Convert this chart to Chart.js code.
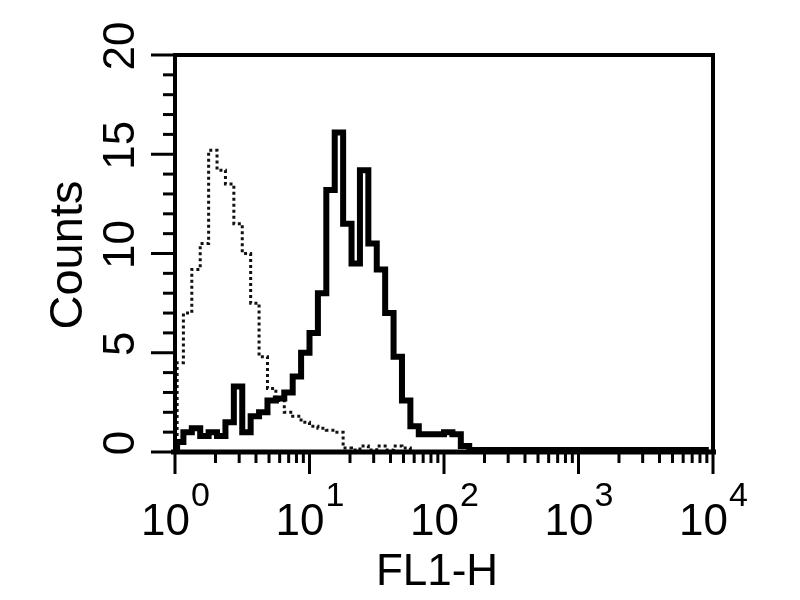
<!DOCTYPE html>
<html>
<head>
<meta charset="utf-8">
<title>FL1-H histogram</title>
<script src="https://cdn.jsdelivr.net/npm/chart.js@4.4.1/dist/chart.umd.min.js"></script>
<style>
  html, body { margin: 0; padding: 0; background: #fff; }
  #wrap { width: 800px; height: 600px; }
</style>
</head>
<body>
<div id="wrap"><canvas id="histChart" width="800" height="600"></canvas></div>
<script>
// channel centres (1024 channel scale, 16 channels per bin, 256 channels per decade)
var channels = [8, 24, 40, 56, 72, 88, 104, 120, 136, 152, 168, 184, 200, 216, 232, 248,
    264, 280, 296, 312, 328, 344, 360, 376, 392, 408, 424, 440, 456, 472, 488, 504,
    520, 536, 552, 568, 584, 600, 616, 632, 648, 664, 680, 696, 712, 728, 744, 760,
    776, 792, 808, 824, 840, 856, 872, 888, 904, 920, 936, 952, 968, 984, 1000, 1016];

// stained sample (thick solid line)
var sampleCounts = [0.5, 1.0, 1.2, 0.8, 1.0, 0.8, 1.5, 3.3, 1.0, 1.8, 2.0, 2.6, 2.7, 3.0, 3.8, 5.0,
    6.0, 8.0, 13.2, 16.1, 11.5, 9.5, 14.2, 10.5, 9.2, 7.0, 4.8, 2.6, 1.3, 0.9, 0.9, 0.9,
    1.0, 0.9, 0.3, 0.1, 0.1, 0.1, 0.1, 0.1, 0.1, 0.1, 0.1, 0.1, 0.1, 0.1, 0.1, 0.1,
    0.1, 0.1, 0.1, 0.1, 0.1, 0.1, 0.1, 0.1, 0.1, 0.1, 0.1, 0.1, 0.1, 0.1, 0.1, 0.1];

// control (dotted line)
var controlCounts = [4.5, 7.0, 9.2, 10.5, 15.2, 14.2, 13.5, 11.5, 10.0, 7.5, 4.8, 3.2, 2.6, 2.0, 1.8, 1.5,
    1.3, 1.2, 1.1, 1.0, 0.2, 0.1, 0.3, 0.1, 0.3, 0.1, 0.3, 0.2, 0, 0, 0, 0,
    0, 0, 0, 0, 0, 0, 0, 0, 0, 0, 0, 0, 0, 0, 0, 0,
    0, 0, 0, 0, 0, 0, 0, 0, 0, 0, 0, 0, 0, 0, 0, 0];

var xDecades = [1, 10, 100, 1000, 10000];
var xExponents = ['0', '1', '2', '3', '4'];
var yTicks = [0, 5, 10, 15, 20];
var yTitle = 'Counts';
var xTitle = 'FL1-H';

var FONT = "'Liberation Sans', Arial, sans-serif";

/**
 * Turn channel + count arrays into {x, y} points on the FL1 scale
 */
function toPoints(counts) {
    var pts = [{ x: 1, y: 0 }];
    for (var i = 0; i < channels.length; i++) {
        pts.push({ x: Math.pow(10, channels[i] / 256), y: counts[i] });
    }
    return pts;
}

/**
 * Draws the box, the outward ticks and all the axis text
 */
var axesPlugin = {
    id: 'flowAxes',
    afterDraw: function (chart) {
        var ctx = chart.ctx;
        var area = chart.chartArea;
        var xs = chart.scales.x;
        var ys = chart.scales.y;
        var i, d, px, py;

        ctx.save();
        ctx.strokeStyle = '#000';
        ctx.fillStyle = '#000';

        // frame
        ctx.lineWidth = 4;
        ctx.strokeRect(area.left, area.top, area.right - area.left, area.bottom - area.top);
        ctx.lineWidth = 5;
        ctx.beginPath();
        ctx.moveTo(area.left - 4, area.bottom);
        ctx.lineTo(area.right + 3, area.bottom);
        ctx.stroke();

        // y ticks: minor every count, major every 5
        ctx.lineWidth = 3;
        for (i = 0; i <= 20; i++) {
            py = ys.getPixelForValue(i);
            var len = (i % 5 === 0) ? 24 : 12;
            ctx.beginPath();
            ctx.moveTo(area.left, py);
            ctx.lineTo(area.left - len, py);
            ctx.stroke();
        }

        // x ticks: log minor ticks
        for (d = 0; d < xDecades.length; d++) {
            px = xs.getPixelForValue(xDecades[d]);
            ctx.beginPath();
            ctx.moveTo(px, area.bottom);
            ctx.lineTo(px, area.bottom + 22);
            ctx.stroke();
            if (d < xDecades.length - 1) {
                for (var m = 2; m <= 9; m++) {
                    px = xs.getPixelForValue(xDecades[d] * m);
                    ctx.beginPath();
                    ctx.moveTo(px, area.bottom);
                    ctx.lineTo(px, area.bottom + 11);
                    ctx.stroke();
                }
            }
        }

        // x tick labels: 10 with a raised exponent
        for (d = 0; d < xDecades.length; d++) {
            px = xs.getPixelForValue(xDecades[d]);
            ctx.font = '44px ' + FONT;
            var baseW = ctx.measureText('10').width;
            ctx.font = '34px ' + FONT;
            var expW = ctx.measureText(xExponents[d]).width;
            var startX = px - (baseW + expW) / 2;
            ctx.textAlign = 'left';
            ctx.textBaseline = 'alphabetic';
            ctx.font = '44px ' + FONT;
            ctx.fillText('10', startX, 535);
            ctx.font = '34px ' + FONT;
            ctx.fillText(xExponents[d], startX + baseW + 1, 506);
        }

        // y tick labels, rotated
        ctx.font = '44px ' + FONT;
        ctx.textAlign = 'center';
        ctx.textBaseline = 'alphabetic';
        for (i = 0; i < yTicks.length; i++) {
            py = ys.getPixelForValue(yTicks[i]);
            ctx.save();
            ctx.translate(134, py - 9);
            ctx.rotate(-Math.PI / 2);
            ctx.fillText(String(yTicks[i]), 0, 0);
            ctx.restore();
        }

        // axis titles
        ctx.save();
        ctx.font = '47px ' + FONT;
        ctx.translate(82, 255);
        ctx.rotate(-Math.PI / 2);
        ctx.fillText(yTitle, 0, 0);
        ctx.restore();

        ctx.font = '44px ' + FONT;
        ctx.fillText(xTitle, 437, 585);

        ctx.restore();
    }
};

function makeChart() {
    var ctx = document.getElementById('histChart').getContext('2d');

    var myChart = new Chart(ctx, {
        type: 'line',
        data: {
            datasets: [{
                label: 'Sample',
                data: toPoints(sampleCounts),
                borderColor: '#000',
                borderWidth: 6,
                stepped: 'middle',
                pointRadius: 0,
                fill: false,
                order: 0
            }, {
                label: 'Control',
                data: toPoints(controlCounts),
                borderColor: '#111',
                borderWidth: 3,
                borderDash: [3, 3],
                stepped: 'middle',
                pointRadius: 0,
                fill: false,
                order: 1
            }]
        },
        options: {
            responsive: false,
            animation: false,
            devicePixelRatio: 1,
            layout: { padding: { top: 55, right: 87, left: 0, bottom: 0 } },
            plugins: {
                legend: { display: false },
                tooltip: { enabled: false }
            },
            scales: {
                x: {
                    type: 'logarithmic',
                    min: 1,
                    max: 10000,
                    ticks: { display: false },
                    grid: { display: false },
                    border: { display: false },
                    afterFit: function (scale) { scale.height = 148; }
                },
                y: {
                    type: 'linear',
                    min: 0,
                    max: 20,
                    ticks: { display: false },
                    grid: { display: false },
                    border: { display: false },
                    afterFit: function (scale) { scale.width = 175; }
                }
            }
        },
        plugins: [axesPlugin]
    });
}

makeChart();
</script>
</body>
</html>
